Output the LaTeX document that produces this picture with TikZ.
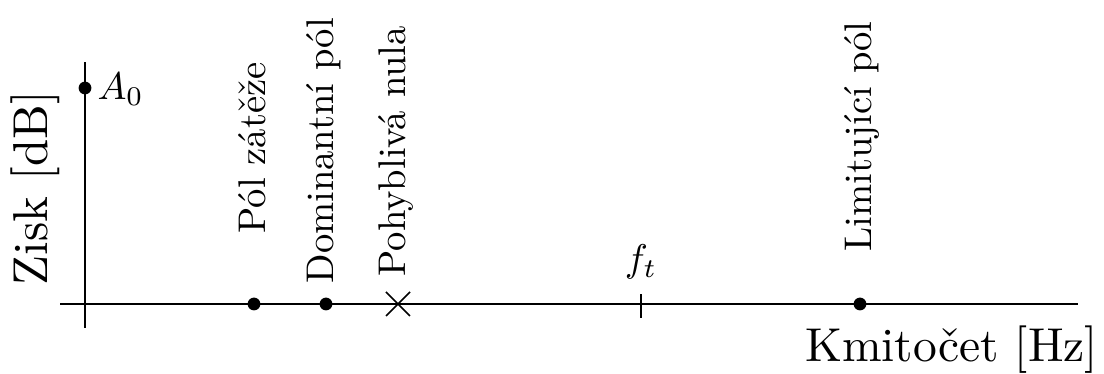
\documentclass[tikz,border=0pt]{standalone}
\begin{document}
\begin{tikzpicture}[x=0.5pt,y=0.5pt,line width=0.8pt,
  dot/.style={circle,fill=black,inner sep=0pt,minimum size=6.4pt},
  lbl/.style={font=\fontsize{10}{12}\selectfont,inner sep=0pt,scale=1.93},
  big/.style={font=\fontsize{10}{12}\selectfont,inner sep=0pt,scale=2.4},
  vlbl/.style={lbl,rotate=90,anchor=base west}]
\useasboundingbox (0,0) rectangle (1104,374);
% axes
\coordinate (xl) at (60,70);
\coordinate (xr) at (1078,70);
\coordinate (yb) at (85,46);
\coordinate (yt) at (85,312);
\draw (xl) -- (xr);
\draw (yb) -- (yt);
% A0
\node[dot] (a0) at (85,286) {};
\node[lbl,anchor=base west] (a0l) at (96,274) {$A_0$};
% poles
\node[dot] (pz) at (254,70) {};
\node[dot] (pd) at (326,70) {};
\node[dot] (pl) at (860,70) {};
\coordinate (nz) at (398,70);
\draw ([shift={(-12,-12)}]nz) -- ([shift={(12,12)}]nz)
      ([shift={(-12,12)}]nz) -- ([shift={(12,-12)}]nz);
% ft tick
\coordinate (ft) at (641,70);
\draw ([yshift=-7pt]ft) -- ([yshift=5pt]ft);
\node[lbl,anchor=base] (ftl) at (641,102) {$f_t$};
% labels
\node[vlbl] (lz) at (265,139) {Pól zátěže};
\node[vlbl] (ld) at (333,89) {Dominantní pól};
\node[vlbl] (ln) at (405,96) {Pohyblivá nula};
\node[vlbl] (ll) at (871,121) {Limitující pól};
\node[big,scale=1.02,rotate=90,anchor=base west] (yl) at (48,87) {Zisk [dB]};
\node[big,scale=0.99,anchor=base east] (xlb) at (1100,12) {Kmitočet [Hz]};
\end{tikzpicture}
\end{document}
